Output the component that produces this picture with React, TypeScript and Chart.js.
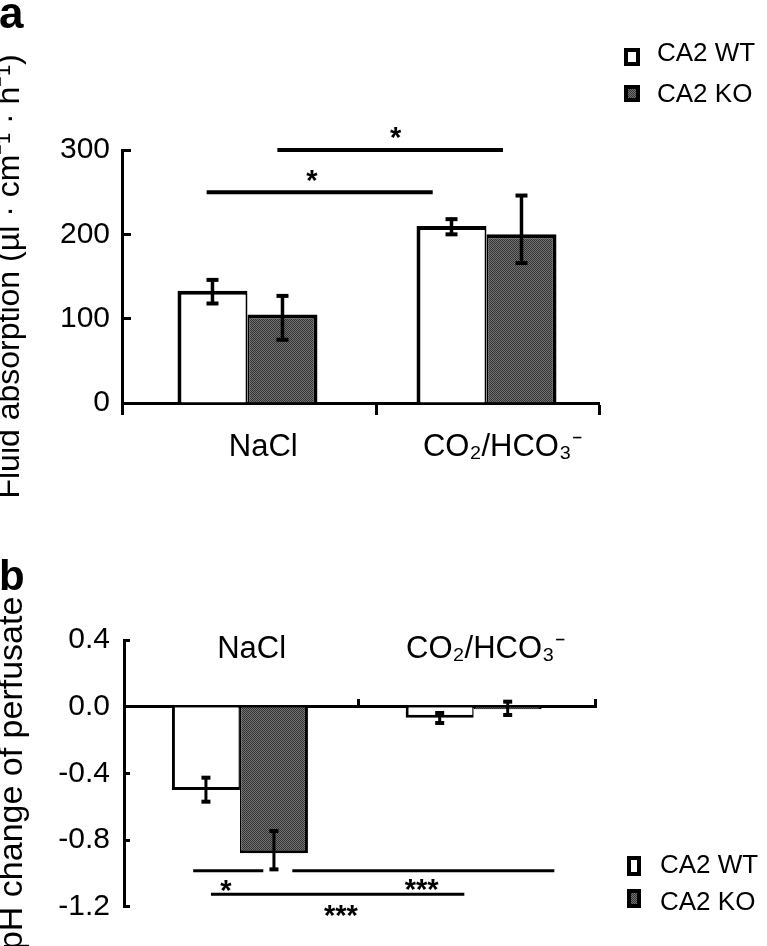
import React, { useEffect, useRef } from 'react';
import { Chart, registerables } from 'chart.js';

Chart.register(...registerables);

const FONT = "'Liberation Sans', Arial, Helvetica, sans-serif";

// ---- shared categories / series ----
const CATEGORIES = ['NaCl', 'CO₂/HCO₃⁻'];
const SERIES = ['CA2 WT', 'CA2 KO'];
const GROUP_X = [0, 1];

// ---- panel a : fluid absorption (µl · cm-1 · h-1) ----
const A_WT = [133, 210];
const A_KO = [105, 200];
const A_WT_LO = [118, 200];
const A_WT_HI = [146, 218];
const A_KO_LO = [75, 166];
const A_KO_HI = [127, 246];
const A_Y_TICKS = [0, 100, 200, 300];
const A_Y_TITLE = 'Fluid absorption (µl · cm⁻¹ · h⁻¹)';

// ---- panel b : pH change of perfusate ----
const B_WT = [-0.5, -0.066];
const B_KO = [-0.88, -0.016];
const B_WT_LO = [-0.57, -0.098];
const B_WT_HI = [-0.426, -0.038];
const B_KO_LO = [-0.976, -0.05];
const B_KO_HI = [-0.746, 0.03];
const B_Y_TICKS = [-1.2, -0.8, -0.4, 0, 0.4];
const B_Y_TITLE = 'pH change of perfusate';

// ---- significance annotations (x in group units, y in axis units) ----
const A_SIG = [
  { from: -0.171, to: 0.775, at: 250, text: '*', tx: 0.27, ty: 273 },
  { from: 0.125, to: 1.069, at: 300, text: '*', tx: 0.62, ty: 323 },
];
const B_SIG = [
  { from: -0.2, to: 0.1, at: -0.984, text: '*', tx: -0.06, ty: -1.058 },
  { from: 0.224, to: 1.345, at: -0.984, text: '***', tx: 0.777, ty: -1.05 },
  { from: -0.124, to: 0.96, at: -1.125, text: '***', tx: 0.432, ty: -1.21 },
];

// ---- axis layout (group units) ----
const A_X_MIN = -0.525;
const A_X_MAX = 1.4707;
const A_X_MID = 0.538;
const A_LABEL_SHIFT = 0.066;
const B_X_MIN = -0.496;
const B_X_MAX = 1.519;
const B_X_MID = 0.509;
const B_LABEL_SHIFT = 0.05;

const near = (a: number, b: number) => Math.abs(a - b) < 1e-6;

function makeChecker(): any {
  const c = document.createElement('canvas');
  c.width = 2;
  c.height = 2;
  const g = c.getContext('2d');
  if (!g) return '#555';
  g.fillStyle = '#727272';
  g.fillRect(0, 0, 2, 2);
  g.fillStyle = '#343434';
  g.fillRect(0, 0, 1, 1);
  g.fillRect(1, 1, 1, 1);
  return g.createPattern(c, 'repeat') || '#555';
}

function barDatasets(wt: number[], ko: number[], wtLo: number[], wtHi: number[], koLo: number[], koHi: number[], fill: any, bw: number, thick: number) {
  return [
    {
      label: SERIES[0],
      data: wt.map((y, i) => ({ x: GROUP_X[i], y })),
      backgroundColor: '#ffffff',
      borderColor: '#000000',
      borderWidth: { top: bw, bottom: bw, left: bw, right: bw / 2 },
      barThickness: thick,
      inflateAmount: 0,
      errLo: wtLo,
      errHi: wtHi,
    },
    {
      label: SERIES[1],
      data: ko.map((y, i) => ({ x: GROUP_X[i], y })),
      backgroundColor: fill,
      borderColor: '#000000',
      borderWidth: { top: bw, bottom: bw, left: bw / 2, right: bw },
      barThickness: thick,
      inflateAmount: 0,
      errLo: koLo,
      errHi: koHi,
    },
  ];
}

const extrasPlugin = {
  id: 'figureExtras',
  afterDatasetsDraw(chart: any, _args: any, opts: any) {
    const ctx = chart.ctx;
    const ys = chart.scales.y;
    ctx.save();
    ctx.strokeStyle = '#000';
    ctx.lineCap = 'butt';
    chart.data.datasets.forEach((ds: any, i: number) => {
      const meta = chart.getDatasetMeta(i);
      meta.data.forEach((el: any, j: number) => {
        const x = el.x;
        const y1 = ys.getPixelForValue(ds.errLo[j]);
        const y2 = ys.getPixelForValue(ds.errHi[j]);
        ctx.lineWidth = opts.stem;
        ctx.beginPath();
        ctx.moveTo(x, y1);
        ctx.lineTo(x, y2);
        ctx.stroke();
        ctx.lineWidth = opts.capThick;
        [y1, y2].forEach((y) => {
          ctx.beginPath();
          ctx.moveTo(x - opts.cap / 2, y);
          ctx.lineTo(x + opts.cap / 2, y);
          ctx.stroke();
        });
      });
    });
    ctx.restore();
  },
  afterDraw(chart: any, _args: any, opts: any) {
    const ctx = chart.ctx;
    const xs = chart.scales.x;
    const ys = chart.scales.y;
    ctx.save();
    // significance bars
    ctx.strokeStyle = '#000';
    ctx.fillStyle = '#000';
    ctx.lineCap = 'butt';
    opts.sig.forEach((s: any) => {
      const y = ys.getPixelForValue(s.at);
      ctx.lineWidth = opts.sigWidth;
      ctx.beginPath();
      ctx.moveTo(xs.getPixelForValue(s.from), y);
      ctx.lineTo(xs.getPixelForValue(s.to), y);
      ctx.stroke();
      ctx.font = `bold ${opts.starSize}px ${FONT}`;
      ctx.textAlign = 'center';
      ctx.textBaseline = 'alphabetic';
      ctx.fillText(s.text, xs.getPixelForValue(s.tx), ys.getPixelForValue(s.ty) + opts.starSize * 0.58);
    });
    // legend
    const lg = opts.legend;
    ctx.font = `${lg.size}px ${FONT}`;
    ctx.textAlign = 'left';
    ctx.textBaseline = 'alphabetic';
    lg.items.forEach((it: any, i: number) => {
      const ds = chart.data.datasets[i];
      ctx.fillStyle = '#000';
      ctx.fillRect(it.x, it.y, it.w, it.h);
      ctx.fillStyle = ds.backgroundColor;
      ctx.fillRect(it.x + lg.border, it.y + lg.border, it.w - 2 * lg.border, it.h - 2 * lg.border);
      ctx.fillStyle = '#000';
      ctx.fillText(ds.label, lg.textX, it.ty);
    });
    // panel letter
    ctx.font = `bold ${opts.letter.size}px ${FONT}`;
    ctx.fillStyle = '#000';
    ctx.fillText(opts.letter.text, opts.letter.x, opts.letter.y);
    ctx.restore();
  },
};

function labelAt(positions: number[], v: number) {
  const i = positions.findIndex((p) => near(p, v));
  return i >= 0 ? CATEGORIES[i] : '';
}

function configA(fill: any): any {
  const labelPos = GROUP_X.map((g) => g + A_LABEL_SHIFT);
  const bounds = [A_X_MIN, A_X_MID, A_X_MAX];
  const allTicks = [...bounds, ...labelPos].sort((a, b) => a - b);
  return {
    type: 'bar',
    data: { datasets: barDatasets(A_WT, A_KO, A_WT_LO, A_WT_HI, A_KO_LO, A_KO_HI, fill, 4, 70) },
    plugins: [extrasPlugin],
    options: {
      responsive: false,
      animation: false,
      events: [],
      layout: { padding: { top: 150, right: 168, left: 0, bottom: 0 } },
      plugins: {
        legend: { display: false },
        tooltip: { enabled: false },
        figureExtras: {
          stem: 3.5,
          cap: 12,
          capThick: 4,
          sig: A_SIG,
          sigWidth: 4,
          starSize: 29,
          legend: {
            size: 26,
            border: 4,
            textX: 657,
            items: [
              { x: 624, y: 48, w: 16, h: 18, ty: 61 },
              { x: 624, y: 85, w: 16, h: 17, ty: 102 },
            ],
          },
          letter: { text: 'a', x: -1, y: 28, size: 44 },
        },
      },
      scales: {
        x: {
          type: 'linear',
          position: 'bottom',
          offset: false,
          min: A_X_MIN,
          max: A_X_MAX,
          afterBuildTicks: (s: any) => {
            s.ticks = allTicks.map((v) => ({ value: v }));
          },
          afterFit: (s: any) => {
            s.height = 117;
          },
          grid: {
            offset: false,
            drawOnChartArea: false,
            drawTicks: true,
            tickLength: 12,
            tickWidth: 3,
            tickColor: (c: any) => (c.tick && bounds.some((b) => near(b, c.tick.value)) ? '#000' : 'rgba(0,0,0,0)'),
          },
          border: { display: true, color: '#000', width: 3 },
          ticks: {
            autoSkip: false,
            maxRotation: 0,
            minRotation: 0,
            padding: 14,
            color: '#000',
            font: { family: FONT, size: 31 },
            callback: (v: number) => labelAt(labelPos, v),
          },
        },
        y: {
          min: 0,
          max: 300,
          afterBuildTicks: (s: any) => {
            s.ticks = A_Y_TICKS.map((v) => ({ value: v }));
          },
          afterFit: (s: any) => {
            s.width = 122;
          },
          grid: { drawOnChartArea: false, drawTicks: true, tickLength: -9, tickWidth: 3, tickColor: '#000' },
          border: { display: true, color: '#000', width: 3 },
          ticks: {
            padding: 21,
            color: '#000',
            font: { family: FONT, size: 30 },
            callback: (v: number) => String(Math.round(v)),
          },
          title: {
            display: true,
            text: A_Y_TITLE,
            color: '#000',
            font: { family: FONT, size: 32 },
            padding: { top: -9, bottom: 0 },
          },
        },
      },
    },
  };
}

function configB(fill: any): any {
  const labelPos = GROUP_X.map((g) => g + B_LABEL_SHIFT);
  const bounds = [B_X_MIN, B_X_MID, B_X_MAX];
  const allTicks = [...bounds, ...labelPos].sort((a, b) => a - b);
  return {
    type: 'bar',
    data: { datasets: barDatasets(B_WT, B_KO, B_WT_LO, B_WT_HI, B_KO_LO, B_KO_HI, fill, 3, 68) },
    plugins: [extrasPlugin],
    options: {
      responsive: false,
      animation: false,
      events: [],
      layout: { padding: { top: 120, right: 172, left: 0, bottom: 39.3 } },
      plugins: {
        legend: { display: false },
        tooltip: { enabled: false },
        figureExtras: {
          stem: 3,
          cap: 9,
          capThick: 4,
          sig: B_SIG,
          sigWidth: 3,
          starSize: 29,
          legend: {
            size: 26,
            border: 4,
            textX: 660,
            items: [
              { x: 627, y: 336, w: 14, h: 20, ty: 353 },
              { x: 627, y: 369, w: 14, h: 19, ty: 390 },
            ],
          },
          letter: { text: 'b', x: -1, y: 70, size: 42 },
        },
      },
      scales: {
        x: {
          type: 'linear',
          position: { y: 0 },
          offset: false,
          min: B_X_MIN,
          max: B_X_MAX,
          z: 1,
          afterBuildTicks: (s: any) => {
            s.ticks = allTicks.map((v) => ({ value: v }));
          },
          grid: {
            offset: false,
            drawOnChartArea: false,
            drawTicks: true,
            tickLength: -9,
            tickWidth: 3,
            tickColor: (c: any) => (c.tick && bounds.some((b) => near(b, c.tick.value)) ? '#000' : 'rgba(0,0,0,0)'),
          },
          border: { display: true, color: '#000', width: 3 },
          ticks: {
            autoSkip: false,
            maxRotation: 0,
            minRotation: 0,
            padding: -67,
            color: '#000',
            font: { family: FONT, size: 31 },
            callback: (v: number) => labelAt(labelPos, v),
          },
        },
        y: {
          min: -1.2,
          max: 0.4,
          afterBuildTicks: (s: any) => {
            s.ticks = B_Y_TICKS.map((v) => ({ value: v }));
          },
          afterFit: (s: any) => {
            s.width = 124;
          },
          grid: { drawOnChartArea: false, drawTicks: true, tickLength: -6, tickWidth: 3, tickColor: '#000' },
          border: { display: true, color: '#000', width: 3 },
          ticks: {
            padding: 20,
            color: '#000',
            font: { family: FONT, size: 30 },
            callback: (v: number) => (Math.abs(v) < 1e-9 ? '0.0' : v.toFixed(1)),
          },
          title: {
            display: true,
            text: B_Y_TITLE,
            color: '#000',
            font: { family: FONT, size: 34 },
            padding: { top: -8, bottom: 0 },
          },
        },
      },
    },
  };
}

export default function App() {
  const refA = useRef<HTMLCanvasElement>(null);
  const refB = useRef<HTMLCanvasElement>(null);
  useEffect(() => {
    const fill = makeChecker();
    const chartA = new Chart(refA.current as HTMLCanvasElement, configA(fill));
    const chartB = new Chart(refB.current as HTMLCanvasElement, configB(fill));
    return () => {
      chartA.destroy();
      chartB.destroy();
    };
  }, []);
  return (
    <div style={{ position: 'absolute', left: 0, top: 0, width: 767, height: 946, background: '#fff', overflow: 'hidden' }}>
      <canvas ref={refA} width={767} height={520} style={{ position: 'absolute', left: 0, top: 0, width: 767, height: 520 }} />
      <canvas ref={refB} width={767} height={426} style={{ position: 'absolute', left: 0, top: 520, width: 767, height: 426 }} />
    </div>
  );
}
